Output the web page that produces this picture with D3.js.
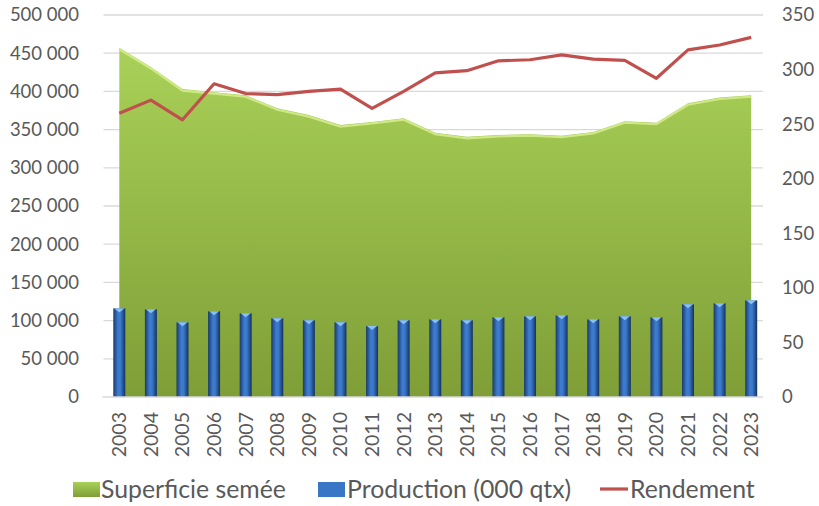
<!DOCTYPE html>
<html>
<head>
<meta charset="utf-8">
<script src="https://cdn.jsdelivr.net/npm/d3@7"></script>
<style>
  body { margin: 0; background: #fff; }
  svg text { font-family: Lato, "Open Sans", sans-serif; fill: #595959; }
</style>
</head>
<body>
<div id="chart"></div>
<script>
// Data
const years = ["2003","2004","2005","2006","2007","2008","2009","2010","2011","2012","2013",
               "2014","2015","2016","2017","2018","2019","2020","2021","2022","2023"];
const superficie = [457000, 432000, 403000, 399000, 395000, 378000, 369000, 356000, 360000, 365000, 346000,
                    340500, 343000, 344000, 342000, 347000, 361000, 359000, 384500, 392000, 395000];
const production = [116000, 114800, 97700, 112200, 109500, 103000, 100400, 97700, 92900, 100400, 101700,
                    100400, 104300, 105600, 106900, 101700, 105600, 104300, 121300, 122600, 126500];
const rendement = [260, 272, 254, 287, 278, 277, 280, 282, 264.5, 280, 297,
                   299, 308, 309, 313.5, 309.5, 308.5, 292, 318, 322.5, 329.5];
const leftTicks = [0, 50000, 100000, 150000, 200000, 250000, 300000, 350000, 400000, 450000, 500000];
const rightTicks = [0, 50, 100, 150, 200, 250, 300, 350];

const width = 819, height = 506;
const plot = { left: 103.5, right: 767, top: 15, bottom: 397 };

const svg = d3.select("#chart").append("svg")
  .attr("width", width).attr("height", height);

const defs = svg.append("defs");
const gArea = defs.append("linearGradient").attr("id", "gArea")
  .attr("x1", 0).attr("y1", 0).attr("x2", 0).attr("y2", 1);
gArea.append("stop").attr("offset", "0%").attr("stop-color", "#a9d158");
gArea.append("stop").attr("offset", "100%").attr("stop-color", "#7f9e37");

const gBar = defs.append("linearGradient").attr("id", "gBar")
  .attr("x1", 0).attr("y1", 0).attr("x2", 1).attr("y2", 0);
gBar.append("stop").attr("offset", "0%").attr("stop-color", "#1a3a69");
gBar.append("stop").attr("offset", "40%").attr("stop-color", "#3d7cd0");
gBar.append("stop").attr("offset", "60%").attr("stop-color", "#3a78cb");
gBar.append("stop").attr("offset", "100%").attr("stop-color", "#15325b");

const fmt = d3.formatLocale({ decimal: ",", thousands: " ", grouping: [3], currency: ["", ""] }).format(",");

// Scales
const x = d3.scaleBand().domain(years).range([plot.left, plot.right]).padding(0);
const cx = d => x(d) + x.bandwidth() / 2;
const yL = d3.scaleLinear().domain([0, 500000]).range([plot.bottom, plot.top]);
const yR = d3.scaleLinear().domain([0, 350]).range([plot.bottom, plot.top]);

// Gridlines
svg.append("g").selectAll("line").data(leftTicks.filter(d => d > 0)).enter().append("line")
  .attr("x1", plot.left).attr("x2", plot.right - 4)
  .attr("y1", d => yL(d)).attr("y2", d => yL(d))
  .attr("stroke", "#d9d9d9").attr("stroke-width", 1.3);

// Area: Superficie semée
const area = d3.area().x((d, i) => cx(years[i])).y0(plot.bottom).y1(d => yL(d));
svg.append("path").datum(superficie)
  .attr("d", area).attr("fill", "url(#gArea)");
svg.append("path").datum(superficie)
  .attr("d", d3.line().x((d, i) => cx(years[i])).y(d => yL(d) + 1.5))
  .attr("fill", "none").attr("stroke", "#d3ec8c").attr("stroke-width", 2.2).attr("opacity", 0.9);

// Bars: Production
const bw = 12;
const bars = svg.append("g").selectAll("g").data(production).enter().append("g");
bars.append("rect")
  .attr("x", (d, i) => cx(years[i]) - bw / 2)
  .attr("y", d => yL(d))
  .attr("width", bw)
  .attr("height", d => plot.bottom - yL(d))
  .attr("fill", "url(#gBar)");
bars.append("path")
  .attr("d", (d, i) => {
    const x0 = cx(years[i]) - bw / 2, y0 = yL(d);
    return `M${x0 + 1},${y0} L${x0 + bw - 1},${y0} L${x0 + bw / 2},${y0 + 4} Z`;
  })
  .attr("fill", "#8cc0f2");

// Axis baseline
svg.append("line")
  .attr("x1", plot.left - 1).attr("x2", plot.right - 4)
  .attr("y1", plot.bottom).attr("y2", plot.bottom)
  .attr("stroke", "#d9d9d9").attr("stroke-width", 1.5);

// Line: Rendement
svg.append("path").datum(rendement)
  .attr("d", d3.line().x((d, i) => cx(years[i])).y(d => yR(d)))
  .attr("fill", "none").attr("stroke", "#c0504d").attr("stroke-width", 3.2)
  .attr("stroke-linejoin", "round");

// Left axis labels
svg.append("g").selectAll("text").data(leftTicks).enter().append("text")
  .attr("x", 79).attr("y", d => yL(d)).attr("dy", "0.35em")
  .attr("text-anchor", "end").attr("font-size", 18.5)
  .text(d => fmt(d));

// Right axis labels
svg.append("g").selectAll("text").data(rightTicks).enter().append("text")
  .attr("x", 782).attr("y", d => yR(d)).attr("dy", "0.35em")
  .attr("text-anchor", "start").attr("font-size", 18.5)
  .text(d => d);

// X axis labels
svg.append("g").selectAll("text").data(years).enter().append("text")
  .attr("transform", d => `translate(${cx(d) + 7},${plot.bottom + 15}) rotate(-90)`)
  .attr("text-anchor", "end").attr("font-size", 19.5)
  .text(d => d);

// Legend
const legend = svg.append("g");
legend.append("rect").attr("x", 73).attr("y", 482).attr("width", 27).attr("height", 15).attr("fill", "url(#gArea)");
legend.append("text").attr("x", 101).attr("y", 498).attr("font-size", 24.8).text("Superficie semée");
legend.append("rect").attr("x", 318).attr("y", 482).attr("width", 27).attr("height", 15).attr("fill", "#3a76c6");
legend.append("text").attr("x", 347).attr("y", 498).attr("font-size", 24.8).text("Production (000 qtx)");
legend.append("line").attr("x1", 600).attr("x2", 628).attr("y1", 489).attr("y2", 489)
  .attr("stroke", "#c0504d").attr("stroke-width", 3.2);
legend.append("text").attr("x", 630).attr("y", 498).attr("font-size", 24.8).text("Rendement");
</script>
</body>
</html>
